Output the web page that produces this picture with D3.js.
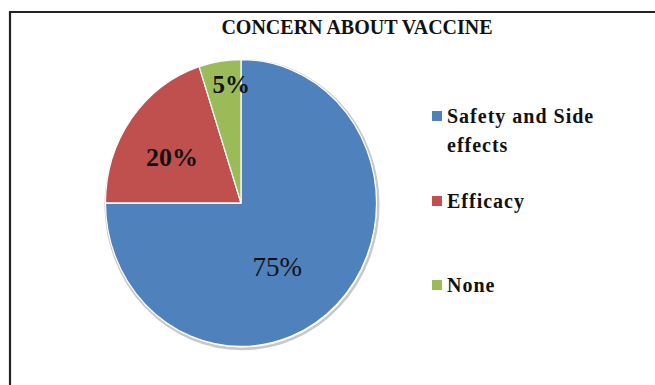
<!DOCTYPE html>
<html>
<head>
<meta charset="utf-8">
<script src="https://cdn.jsdelivr.net/npm/d3@7"></script>
<style>
  html, body { margin: 0; padding: 0; background: #fff; }
  svg { display: block; }
  svg text { font-family: "Liberation Serif", "Times New Roman", Times, "DejaVu Serif", serif; }
</style>
</head>
<body>
<svg id="chart" width="655" height="385"></svg>
<script>
// ---- data ----
const title = "CONCERN ABOUT VACCINE";
const categories = ["Safety and Side effects", "Efficacy", "None"];
const values = [75, 20, 5];
const legendLines = [["Safety and Side", "effects"], ["Efficacy"], ["None"]];
const colors = ["#4F81BD", "#C0504D", "#9BBB59"];

// ---- layout ----
const cx = 241, cy = 203, rx = 135.5, ry = 143.5;
const yScale = ry / rx;

const svg = d3.select("#chart");

// frame
svg.append("path")
  .attr("d", `M10,385 L10,12 L655,12`)
  .attr("fill", "none")
  .attr("stroke", "#222")
  .attr("stroke-width", 2.2);

// title
svg.append("text")
  .attr("x", 357).attr("y", 34)
  .attr("text-anchor", "middle")
  .style("font-weight", "bold")
  .style("font-size", "20px")
  .attr("fill", "#111")
  .text(title);

const pie = d3.pie().sort(null).value(d => d)(values);
const arc = d3.arc().innerRadius(0).outerRadius(rx);

const g = svg.append("g")
  .attr("transform", `translate(${cx},${cy}) scale(1,${yScale})`);

// soft shadow outline
g.append("circle")
  .attr("cx", 1).attr("cy", 1.5).attr("r", rx + 0.8)
  .attr("fill", "none")
  .attr("stroke", "#c8c8c8")
  .attr("stroke-width", 2.5);

g.selectAll("path.slice")
  .data(pie)
  .enter().append("path")
  .attr("class", "slice")
  .attr("d", arc)
  .attr("fill", (d, i) => colors[i])
  .attr("stroke", "#fff")
  .attr("stroke-width", 1.2)
  .attr("stroke-linejoin", "round");

// data labels (placement like Excel best-fit)
const labelFrac = [0.52, 0.6, 0.83];
const labelShift = [14, -4, 4]; // degrees
const labelSize = [27, 26, 25];
const labelWeight = ["normal", "bold", "bold"];
pie.forEach((d, i) => {
  const a = (d.startAngle + d.endAngle) / 2 + labelShift[i] * Math.PI / 180;
  const r = rx * labelFrac[i];
  const x = cx + Math.sin(a) * r;
  const y = cy - Math.cos(a) * r * yScale;
  svg.append("text")
    .attr("x", x).attr("y", y)
    .attr("text-anchor", "middle")
    .attr("dominant-baseline", "central")
    .style("font-weight", labelWeight[i])
    .style("font-size", labelSize[i] + "px")
    .attr("fill", "#111")
    .text(values[i] + "%");
});

// legend
const legendX = 432;
const legendBase = [123, 208, 292];
const lineGap = 29;
categories.forEach((c, i) => {
  svg.append("rect")
    .attr("x", legendX).attr("y", legendBase[i] - 12)
    .attr("width", 10).attr("height", 10)
    .attr("fill", colors[i]);
  const t = svg.append("text")
    .attr("x", legendX + 15).attr("y", legendBase[i])
    .style("font-weight", "bold")
    .style("font-size", "20px")
    .style("letter-spacing", "1px")
    .attr("fill", "#111");
  legendLines[i].forEach((ln, j) => {
    t.append("tspan")
      .attr("x", legendX + 15)
      .attr("dy", j === 0 ? 0 : lineGap)
      .text(ln);
  });
});
</script>
</body>
</html>
